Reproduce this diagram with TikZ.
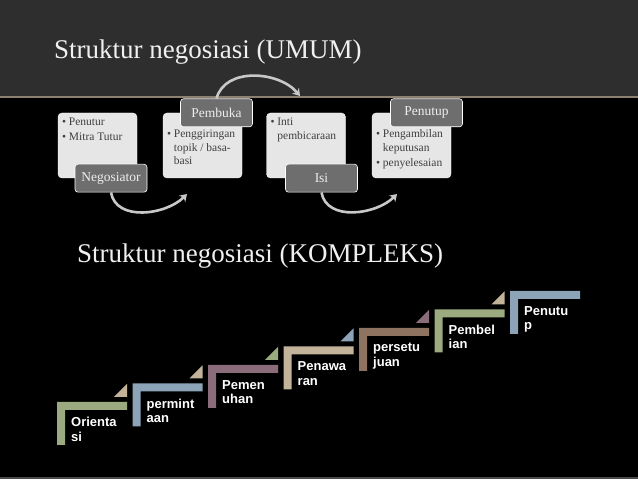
\documentclass[tikz,border=0pt]{standalone}
\usepackage{fontspec}
\setmainfont{Liberation Serif}
\setsansfont{Liberation Sans}
\usepackage{tikz}
\usetikzlibrary{arrows.meta}
\usetikzlibrary{positioning}
\definecolor{bandgray}{HTML}{2E2E2E}
\definecolor{bandline}{HTML}{8C8070}
\definecolor{footline}{HTML}{4A4A4A}
\definecolor{boxgray}{HTML}{E6E6E6}
\definecolor{boxink}{HTML}{404040}
\definecolor{taggray}{HTML}{6E6E6E}
\definecolor{tagtext}{HTML}{EEEEEE}
\definecolor{arcgray}{HTML}{C8C8C8}
\definecolor{stepgreen}{HTML}{9BAA7F}
\definecolor{stepblue}{HTML}{8DA3B8}
\definecolor{stepmauve}{HTML}{8A6C7A}
\definecolor{steptan}{HTML}{C3B39B}
\definecolor{stepbrown}{HTML}{8E7460}
\tikzset{infobox/.style={ % light box holding the bullet points
           draw=white, fill=boxgray, rounded corners=4pt,
           minimum width=79pt, minimum height=65pt},
         tagbox/.style={      % dark tag with the part name
           draw=white, line width=0.6pt, fill=taggray, rounded corners=3pt,
           minimum width=72pt, minimum height=28pt, text=tagtext,
           font=\fontsize{13.5}{15}\selectfont},
         boxtext/.style={     % bullet text, top-left in a box
           anchor=north west, align=left, inner sep=0pt, text=boxink,
           font=\fontsize{11.5}{13.5}\selectfont},
         titletext/.style={   % slide headings
           anchor=base west, inner sep=0pt, text=white!94!black,
           font=\fontsize{27}{30}\selectfont},
         steptext/.style={    % labels on the stairs
           anchor=north west, align=left, inner sep=0pt, text=white,
           font=\sffamily\bfseries\fontsize{13}{14.5}\selectfont},
         arcarrow/.style={    % curved arrows between the parts
           draw=arcgray, line width=2.6pt, -{Stealth[length=7pt,width=9pt]}},
         stairL/.pic={        % one L shaped step, origin at its top left
           \fill (0,0) -- (70,0) -- (70,-8) -- (8,-8) -- (8,-43) -- (0,-43) -- cycle;},
         stairtri/.pic={      % small corner triangle, origin at step top right
           \fill (-13,5) -- (0,5) -- (0,18) -- cycle;}}

\begin{document}
\begin{tikzpicture}[x=1pt,y=1pt]
\useasboundingbox (0,0) rectangle (638,479);
% background
\fill[black] (0,0) rectangle (638,479);
\fill[bandgray] (0,382) rectangle (638,479);
\draw[bandline, line width=1.5pt] (0,382) -- (638,382);
\draw[footline, line width=2pt] (0,1) -- (638,1);

\node[titletext] (umum) at (54,420) {Struktur negosiasi (UMUM)};
\node[titletext] (kompleks) at (77,216) {Struktur negosiasi (KOMPLEKS)};

% general structure
\begin{scope}
    \node[infobox] (boxA) at (97.5,333.5) {};
    \node[infobox] (boxB) at (202.5,333.5) {};
    \node[infobox] (boxC) at (306,333.5) {};
    \node[infobox] (boxD) at (411.5,333.5) {};
    \node[boxtext] (txtA) at ([xshift=4pt,yshift=-5pt]boxA.north west)
        {\textbullet~Penutur\\[1.5pt]\textbullet~Mitra Tutur};
    \node[boxtext] (txtB) at ([xshift=4pt,yshift=-17pt]boxB.north west)
        {\textbullet~Penggiringan\\\phantom{\textbullet~}topik / basa-\\\phantom{\textbullet~}basi};
    \node[boxtext] (txtC) at ([xshift=4pt,yshift=-5pt]boxC.north west)
        {\textbullet~Inti\\\phantom{\textbullet~}pembicaraan};
    \node[boxtext] (txtD) at ([xshift=4pt,yshift=-17pt]boxD.north west)
        {\textbullet~Pengambilan\\\phantom{\textbullet~}keputusan\\[1.5pt]\textbullet~penyelesaian};
    \node[tagbox] (neg) at ([xshift=13.5pt]boxA.south) {Negosiator};
    \node[tagbox] (pemb) at ([xshift=14pt]boxB.north) {Pembuka};
    \node[tagbox] (isi) at ([xshift=15.5pt]boxC.south) {Isi};
    \node[tagbox] (tutup) at ([xshift=15pt]boxD.north) {Penutup};
\end{scope}

\coordinate (endA) at (187,285);
\coordinate (endB) at (300,383);
\coordinate (endC) at (397,285);
\path[arcarrow] (neg.south) to[out=-80,in=-135] (endA);
\path[arcarrow] (pemb.north) to[out=75,in=130] (endB);
\path[arcarrow] (isi.south) to[out=-80,in=-135] (endC);

% complex structure
\pic[fill=stepgreen] at (57,77) {stairL};
\pic[fill=steptan] at (127,77) {stairtri};
\node[steptext] (orientasi) at (71,62) {Orienta\\si};

\pic[fill=stepblue] at (132.5,95.5) {stairL};
\pic[fill=steptan] at (202.5,95.5) {stairtri};
\node[steptext] (permintaan) at (146.5,80.5) {permint\\aan};

\pic[fill=stepmauve] at (208,114) {stairL};
\pic[fill=stepgreen] at (278,114) {stairtri};
\node[steptext] (pemenuhan) at (222,99) {Pemen\\uhan};

\pic[fill=steptan] at (283.5,132.5) {stairL};
\pic[fill=stepblue] at (353.5,132.5) {stairtri};
\node[steptext] (penawaran) at (297.5,117.5) {Penawa\\ran};

\pic[fill=stepbrown] at (359,151) {stairL};
\pic[fill=stepmauve] at (429,151) {stairtri};
\node[steptext] (persetujuan) at (373,136) {persetu\\juan};

\pic[fill=stepgreen] at (434.5,169.5) {stairL};
\pic[fill=steptan] at (504.5,169.5) {stairtri};
\node[steptext] (pembelian) at (448.5,154.5) {Pembel\\ian};

\pic[fill=stepblue] at (510,188) {stairL};
\node[steptext] (penutupstep) at (524,173) {Penutu\\p};
\end{tikzpicture}
\end{document}
